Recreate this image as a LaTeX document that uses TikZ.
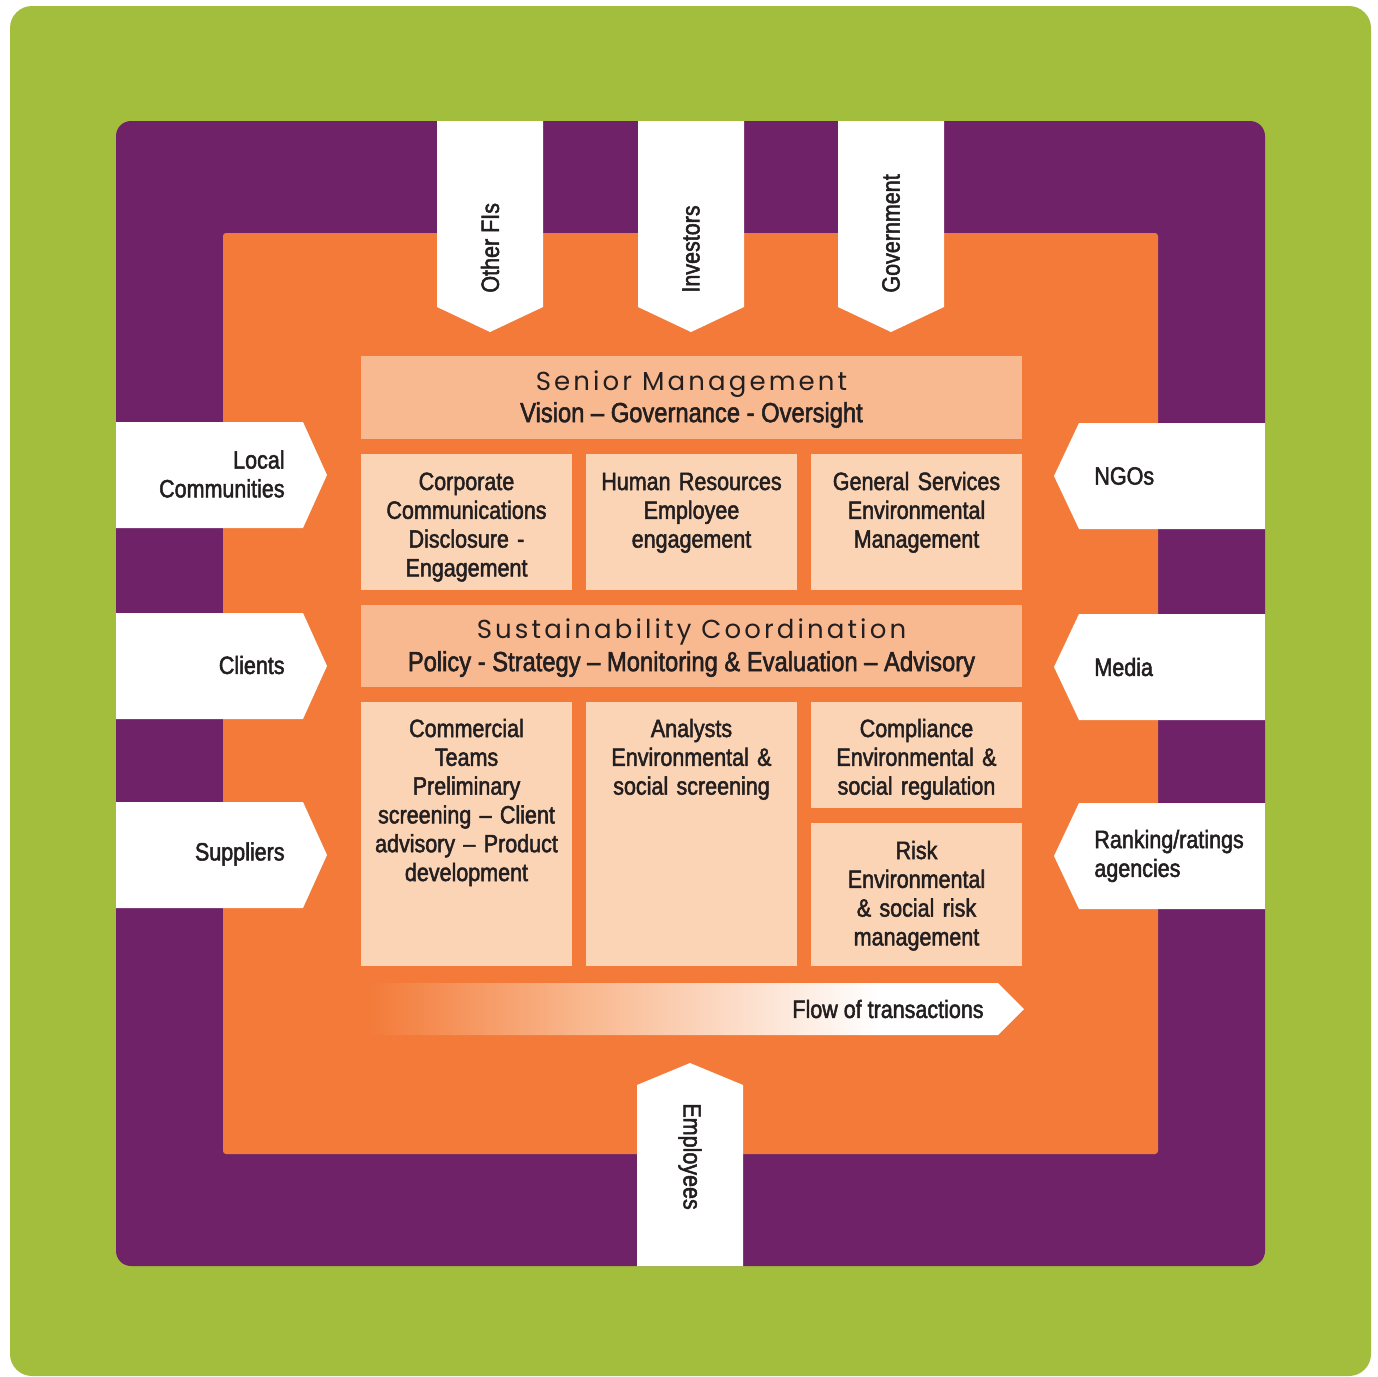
\documentclass[tikz,border=0pt]{standalone}
\usepackage{fontspec}
\setmainfont{Liberation Sans}[FakeStretch=0.86,FakeBold=2]
\newfontfamily\geofont{Poppins}[LetterSpace=12]
\definecolor{bggreen}{RGB}{163,190,60}
\definecolor{plum}{RGB}{112,34,104}
\definecolor{forange}{RGB}{243,122,56}
\definecolor{headfill}{RGB}{249,185,144}
\definecolor{cellfill}{RGB}{251,211,181}
\definecolor{ink}{RGB}{35,31,32}
\pgfdeclarehorizontalshading{flowshade}{100bp}{color(0bp)=(forange); color(25bp)=(forange);
  color(42bp)=(headfill); color(64bp)=(white); color(100bp)=(white)}

\begin{document}
\begin{tikzpicture}[x=0.5pt,y=-0.5pt,
    every node/.style={text=ink,inner sep=0pt,font=\fontsize{12.5}{14.4}\selectfont},
    cell/.style={fill=cellfill},
    head/.style={fill=headfill},
    tag/.style={fill=white},
    geo/.style={font=\geofont\fontsize{13}{15}\selectfont},
    big/.style={font=\fontsize{13.8}{16}\selectfont},
    boxtxt/.style={align=center,text width=100pt,anchor=base}]
  \useasboundingbox (0,0) rectangle (1378,1377);

  % frames
  \fill[bggreen,rounded corners=11pt] (10,6) rectangle (1371,1376);
  \fill[plum,rounded corners=7.5pt] (116,121) rectangle (1265,1266);
  \fill[forange,rounded corners=1.5pt] (223,233) rectangle (1158,1154);

  % stakeholders, top
  \fill[tag] (437,121) -- (543,121) -- (543,307) -- (490,332) -- (437,307) -- cycle;
  \fill[tag] (638,121) -- (744,121) -- (744,307) -- (691,332) -- (638,307) -- cycle;
  \fill[tag] (838,121) -- (944,121) -- (944,307) -- (891,332) -- (838,307) -- cycle;
  \node[rotate=90,anchor=west] (ofi) at (490,293) {Other FIs};
  \node[rotate=90,anchor=west] (inv) at (691,293) {Investors};
  \node[rotate=90,anchor=west] (gov) at (891,293) {Government};

  % stakeholders, left
  \fill[tag] (116,422) -- (303,422) -- (327,475) -- (303,528) -- (116,528) -- cycle;
  \fill[tag] (116,613) -- (303,613) -- (327,666) -- (303,719) -- (116,719) -- cycle;
  \fill[tag] (116,802) -- (303,802) -- (327,855) -- (303,908) -- (116,908) -- cycle;
  \node[anchor=east,align=right] (loc) at (285,474) {Local\\Communities};
  \node[anchor=east] (cli) at (285,665) {Clients};
  \node[anchor=east] (sup) at (285,854) {Suppliers};

  % stakeholders, right
  \fill[tag] (1265,423) -- (1079,423) -- (1054,476) -- (1079,529) -- (1265,529) -- cycle;
  \fill[tag] (1265,614) -- (1079,614) -- (1054,667) -- (1079,720) -- (1265,720) -- cycle;
  \fill[tag] (1265,803) -- (1079,803) -- (1054,856) -- (1079,909) -- (1265,909) -- cycle;
  \node[anchor=west] (ngo) at (1094,476) {NGOs};
  \node[anchor=west] (med) at (1094,667) {Media};
  \node[anchor=west,align=left] (rank) at (1094,856) {Ranking/ratings\\agencies};

  % stakeholders, bottom
  \fill[tag] (637,1266) -- (637,1085) -- (690,1063) -- (743,1085) -- (743,1266) -- cycle;
  \node[rotate=-90,anchor=west] (emp) at (690,1103) {Employees};

  % senior management
  \fill[head] (361,356) rectangle (1022,439);
  \node[geo] (smt) at (691.5,384) {Senior Management};
  \node[big] (smb) at (691.5,415) {Vision -- Governance - Oversight};

  \fill[cell] (361,454) rectangle (572,590);
  \fill[cell] (586,454) rectangle (797,590);
  \fill[cell] (811,454) rectangle (1022,590);
  \node[boxtxt] (corp) at (466.5,490) {Corporate\\Communications\\Disclosure -\\Engagement};
  \node[boxtxt] (hr) at (691.5,490) {Human Resources\\Employee\\engagement};
  \node[boxtxt] (gs) at (916.5,490) {General Services\\Environmental\\Management};

  % sustainability coordination
  \fill[head] (361,605) rectangle (1022,687);
  \node[geo] (sct) at (691.5,632) {Sustainability Coordination};
  \node[big] (scb) at (691.5,664) {Policy - Strategy -- Monitoring \& Evaluation -- Advisory};

  \fill[cell] (361,702) rectangle (572,966);
  \fill[cell] (586,702) rectangle (797,966);
  \fill[cell] (811,702) rectangle (1022,808);
  \fill[cell] (811,823) rectangle (1022,966);
  \node[boxtxt] (com) at (466.5,737) {Commercial\\Teams\\Preliminary\\screening -- Client\\advisory -- Product\\development};
  \node[boxtxt] (ana) at (691.5,737) {Analysts\\Environmental \&\\social screening};
  \node[boxtxt] (cmp) at (916.5,737) {Compliance\\Environmental \&\\social regulation};
  \node[boxtxt] (risk) at (916.5,859) {Risk\\Environmental\\\& social risk\\management};

  % flow
  \shade[shading=flowshade] (366,983) -- (998,983) -- (1024,1009) -- (998,1035) -- (366,1035) -- cycle;
  \node[anchor=east] (flow) at (984,1009) {Flow of transactions};
\end{tikzpicture}
\end{document}
